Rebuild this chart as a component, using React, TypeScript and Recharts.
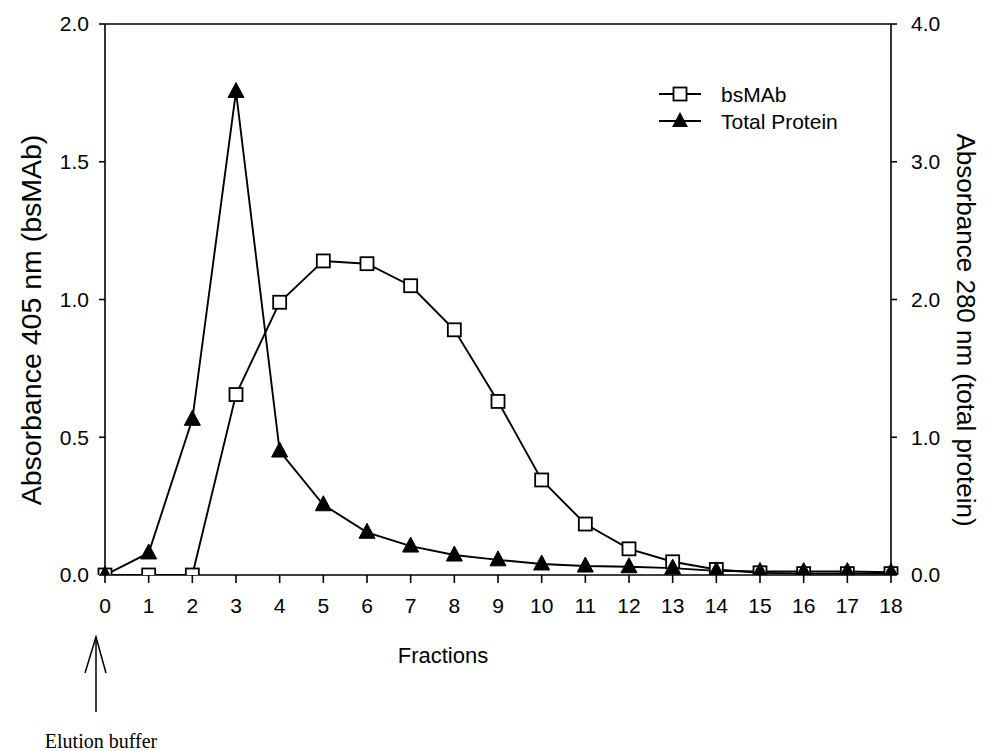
import React from "react";
import { ComposedChart, Line, XAxis, YAxis, ReferenceLine } from "recharts";

const fractions = [0, 1, 2, 3, 4, 5, 6, 7, 8, 9, 10, 11, 12, 13, 14, 15, 16, 17, 18];
const bsMAb = [0, 0, 0, 0.655, 0.99, 1.14, 1.13, 1.05, 0.89, 0.63, 0.345, 0.185, 0.095, 0.048, 0.02, 0.008, 0.005, 0.005, 0.005];
const totalProtein = [0, 0.16, 1.13, 3.51, 0.9, 0.51, 0.31, 0.21, 0.145, 0.11, 0.08, 0.065, 0.06, 0.05, 0.03, 0.025, 0.025, 0.025, 0.02];
const leftTicks = [0, 0.5, 1.0, 1.5, 2.0];
const rightTicks = [0, 1, 2, 3, 4];
const seriesNames = ["bsMAb", "Total Protein"];

const data = fractions.map((f, i) => ({ fraction: f, bsMAb: bsMAb[i], totalProtein: totalProtein[i] }));

const FONT = "'Liberation Sans', Arial, sans-serif";

const SquareDot = (props: any) => {
  const { cx, cy } = props;
  if (cx == null || cy == null) return null;
  return <rect key={`s-${cx}`} x={cx - 6.5} y={cy - 6.5} width={13} height={13} fill="#fff" stroke="#000" strokeWidth={1.8} />;
};

const TriDot = (props: any) => {
  const { cx, cy } = props;
  if (cx == null || cy == null) return null;
  return <polygon key={`t-${cx}`} points={`${cx},${cy - 9} ${cx - 8},${cy + 6} ${cx + 8},${cy + 6}`} fill="#000" stroke="#000" strokeWidth={1} />;
};

export default function App() {
  return (
    <div style={{ position: "absolute", left: 0, top: 0, width: 998, height: 751, background: "#fff" }}>
      <ComposedChart width={998} height={751} data={data} margin={{ top: 24, right: 0, bottom: 0, left: 0 }}>
        <XAxis
          dataKey="fraction"
          type="number"
          domain={[0, 18]}
          ticks={fractions}
          interval={0}
          height={176}
          tickSize={8}
          tickMargin={15}
          stroke="#000"
          strokeWidth={1.6}
          tick={{ fill: "#000", fontSize: 21, fontFamily: FONT }}
        />
        <YAxis
          yAxisId="left"
          orientation="left"
          domain={[0, 2]}
          ticks={leftTicks}
          width={105}
          tickSize={6}
          tickMargin={10}
          stroke="#000"
          strokeWidth={1.6}
          tickFormatter={(v: number) => v.toFixed(1)}
          tick={{ fill: "#000", fontSize: 21, fontFamily: FONT }}
          allowDataOverflow
        />
        <YAxis
          yAxisId="right"
          orientation="right"
          domain={[0, 4]}
          ticks={rightTicks}
          width={107}
          tickSize={6}
          tickMargin={14}
          stroke="#000"
          strokeWidth={1.6}
          tickFormatter={(v: number) => v.toFixed(1)}
          tick={{ fill: "#000", fontSize: 21, fontFamily: FONT }}
          allowDataOverflow
        />
        <ReferenceLine yAxisId="left" y={2} stroke="#000" strokeWidth={1.6} />
        <Line
          yAxisId="left"
          dataKey="bsMAb"
          name={seriesNames[0]}
          stroke="#000"
          strokeWidth={1.9}
          dot={<SquareDot />}
          activeDot={false}
          isAnimationActive={false}
        />
        <Line
          yAxisId="right"
          dataKey="totalProtein"
          name={seriesNames[1]}
          stroke="#000"
          strokeWidth={1.9}
          dot={<TriDot />}
          activeDot={false}
          isAnimationActive={false}
        />
      </ComposedChart>
      <svg width={998} height={751} style={{ position: "absolute", left: 0, top: 0, pointerEvents: "none" }}>
        <g transform="translate(659,84)">
          <line x1={0} y1={10} x2={42} y2={10} stroke="#000" strokeWidth={1.8} />
          <rect x={14.5} y={3.5} width={13} height={13} fill="#fff" stroke="#000" strokeWidth={1.8} />
          <text x={62} y={18} fontFamily={FONT} fontSize={21} fill="#000">{seriesNames[0]}</text>
          <line x1={0} y1={37} x2={42} y2={37} stroke="#000" strokeWidth={1.8} />
          <polygon points="21,28 13,43 29,43" fill="#000" />
          <text x={62} y={45} fontFamily={FONT} fontSize={21} fill="#000">{seriesNames[1]}</text>
        </g>
        <text x={443} y={663} textAnchor="middle" fontFamily={FONT} fontSize={22} fill="#000">Fractions</text>
        <text transform="translate(41,320) rotate(-90)" textAnchor="middle" fontFamily={FONT} fontSize={28.5} fill="#000">Absorbance 405 nm (bsMAb)</text>
        <text transform="translate(957,330) rotate(90)" textAnchor="middle" fontFamily={FONT} fontSize={26} fill="#000">Absorbance 280 nm (total protein)</text>
        <line x1={96} y1={637} x2={96} y2={712} stroke="#000" strokeWidth={1.5} />
        <polyline points="85,673 96,637 106,673" fill="none" stroke="#000" strokeWidth={1.5} />
        <text x={101} y={748} textAnchor="middle" fontFamily="'Liberation Serif', 'Times New Roman', serif" fontSize={20} fill="#000">Elution buffer</text>
      </svg>
    </div>
  );
}
